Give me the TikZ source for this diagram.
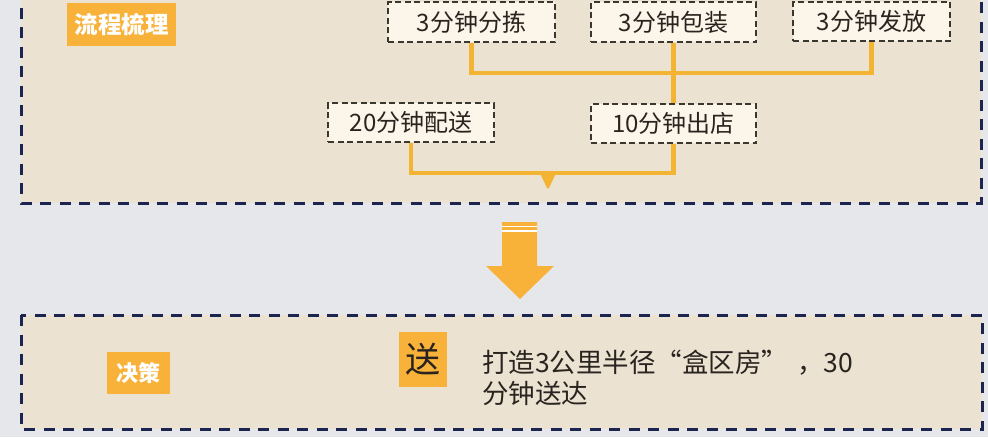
\documentclass[tikz,border=0pt]{standalone}
\usepackage{fontspec}
\setmainfont{Noto Sans CJK SC}
\definecolor{pagebg}{HTML}{E6E7EB}
\definecolor{panelbg}{HTML}{ECE2D1}
\definecolor{panelline}{HTML}{1C2550}
\definecolor{stepfill}{HTML}{FCF6EA}
\definecolor{stepline}{HTML}{3A3630}
\definecolor{accent}{HTML}{F8B23A}
\definecolor{linkcol}{HTML}{F3B333}
\definecolor{inkcol}{HTML}{2A2420}
\tikzset{
  panel/.style={draw=panelline, fill=panelbg, line width=3pt,
    dash pattern=on 11pt off 8.5pt},
  stepbox/.style={draw=stepline, fill=stepfill, line width=1.6pt,
    dash pattern=on 6pt off 3.5pt, inner sep=0pt, text=inkcol,
    font=\fontsize{24}{26}\selectfont},
  tag/.style={fill=accent, inner sep=0pt, text=white,
    font=\fontsize{23.5}{25}\selectfont\bfseries},
  link/.style={draw=linkcol, line width=4.5pt},
}
\begin{document}
\begin{tikzpicture}[x=1pt, y=-1pt]
\useasboundingbox (0,0) rectangle (988,437);
\fill[pagebg] (0,0) rectangle (988,437);

% panels
\draw[panel] (21,-12) rectangle (981,203);
\draw[panel] (21,315) rectangle (982,429);

% section tags
\node[tag, minimum width=109pt, minimum height=43pt] (flow) at (121.5,24.5) {流程梳理};
\node[tag, minimum width=63pt, minimum height=42pt,
  font=\fontsize{22}{24}\selectfont\bfseries] (decide) at (138.5,373) {决策};

% process steps (outlines first, so connector ends stay hidden)
\node[stepbox, minimum width=167pt, minimum height=40pt] (sort) at (471.5,22) {};
\node[stepbox, minimum width=165pt, minimum height=40pt] (pack) at (673.5,22) {};
\node[stepbox, minimum width=157pt, minimum height=39pt] (send) at (871.5,21.5) {};
\node[stepbox, minimum width=166pt, minimum height=39pt] (ship) at (411,122.5) {};
\node[stepbox, minimum width=165pt, minimum height=39pt] (out) at (673.5,123.5) {};

% connectors
\coordinate (j1) at (0,73);
\coordinate (j2) at (0,173);
\draw[link] (sort.south) |- (j1 -| send.south) -- (send.south);
\draw[link] (pack.south) -- (out.north);
\draw[link] (ship.south) |- (j2 -| out.south) -- (out.south);
\fill[linkcol] (539,171) -- (557,171) -- (549,188) to[out=-110,in=-70] (547,188) -- cycle;

% step labels, drawn over the connector ends
\node[stepbox, minimum width=167pt, minimum height=40pt] at (sort) {3分钟分拣};
\node[stepbox, minimum width=165pt, minimum height=40pt] at (pack) {3分钟包装};
\node[stepbox, minimum width=157pt, minimum height=39pt] at (send) {3分钟发放};
\node[stepbox, minimum width=166pt, minimum height=39pt] at (ship) {20分钟配送};
\node[stepbox, minimum width=165pt, minimum height=39pt] at (out) {10分钟出店};

% big down arrow
\fill[accent] (502,222) -- (537,222) -- (537,266) -- (554,266) -- (520,299)
  -- (486,266) -- (502,266) -- cycle;
\draw[white, line width=1.3pt] (502,226.8) -- (537,226.8);
\draw[white, line width=1.3pt] (502,231) -- (537,231);

% decision
\node[fill=accent, inner sep=0pt, minimum width=48pt, minimum height=55pt,
  text=inkcol, font=\fontsize{35}{37}\selectfont] (song) at (423,359.5) {送};
\node[anchor=base west, inner sep=0pt, align=left, text=inkcol,
  font=\fontsize{26.5}{31}\selectfont] (plan) at (482,403)
  {打造3公里半径“盒区房”\hspace{9pt}，30\\分钟送达};
\end{tikzpicture}
\end{document}
